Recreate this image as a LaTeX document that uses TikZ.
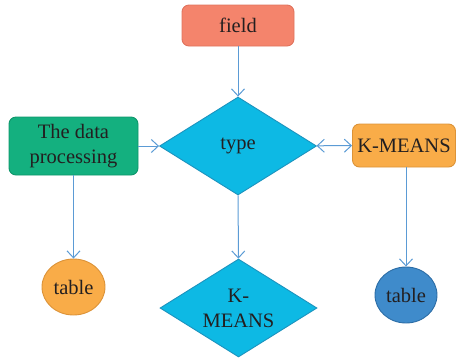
\documentclass[tikz,border=0pt]{standalone}
\usepackage{fontspec}
\setmainfont{Liberation Serif}
\usetikzlibrary{shapes.geometric,arrows.meta}
\definecolor{arrowc}{HTML}{5B9BD5}
\definecolor{fieldf}{HTML}{F4846C}
\definecolor{fieldd}{HTML}{E0735D}
\definecolor{greenf}{HTML}{14B07F}
\definecolor{greend}{HTML}{0E966B}
\definecolor{cyanf}{HTML}{0DB9E4}
\definecolor{cyand}{HTML}{1C93BE}
\definecolor{orangef}{HTML}{F9AC48}
\definecolor{oranged}{HTML}{DC9338}
\definecolor{bluef}{HTML}{3F8BCB}
\definecolor{blued}{HTML}{2C6DA6}
\definecolor{txt}{HTML}{231F20}
\begin{document}
\begin{tikzpicture}[x=1pt,y=-1pt,
  every node/.style={font=\fontsize{20.5}{25}\selectfont, text=txt, inner sep=0pt, line width=0.9pt},
  rbox/.style={draw, rounded corners=7pt},
  dia/.style={draw, diamond, fill=cyanf, draw=cyand, minimum width=157pt, minimum height=98pt, align=center},
  ell/.style={draw, ellipse},
  conn/.style={draw=arrowc, line width=1pt, -{Straight Barb[length=7pt,width=13pt]}},
  conn2/.style={draw=arrowc, line width=1pt, {Straight Barb[length=7pt,width=13pt]}-{Straight Barb[length=7pt,width=13pt]}}]
\useasboundingbox (0,0) rectangle (457,360);
\node[rbox, fill=fieldf, draw=fieldd, minimum width=112pt, minimum height=41pt] (field) at (238,25.5) {field};
\node[dia] (type) at (238,146) {type};
\node[rbox, fill=greenf, draw=greend, minimum width=129pt, minimum height=58pt, align=center] (data) at (73.5,146) {The data\\processing};
\node[rbox, fill=orangef, draw=oranged, minimum width=103pt, minimum height=43pt] (kmb) at (404,145.5) {K-MEANS};
\node[ell, fill=orangef, draw=oranged, minimum width=63pt, minimum height=56pt] (t1) at (73.5,287) {table};
\node[dia, inner sep=-14pt] (km2) at (238.5,308) {K-\\MEANS};
\node[ell, fill=bluef, draw=blued, minimum width=62pt, minimum height=56pt] (t2) at (406,295) {table};
\draw[conn] (field) -- (type);
\draw[conn] (data) -- (type);
\draw[conn2] (type) -- (kmb);
\draw[conn] (data) -- (t1);
\draw[conn] (type) -- (km2);
\draw[conn] (t2.north |- kmb.south) -- (t2.north);
\end{tikzpicture}
\end{document}
